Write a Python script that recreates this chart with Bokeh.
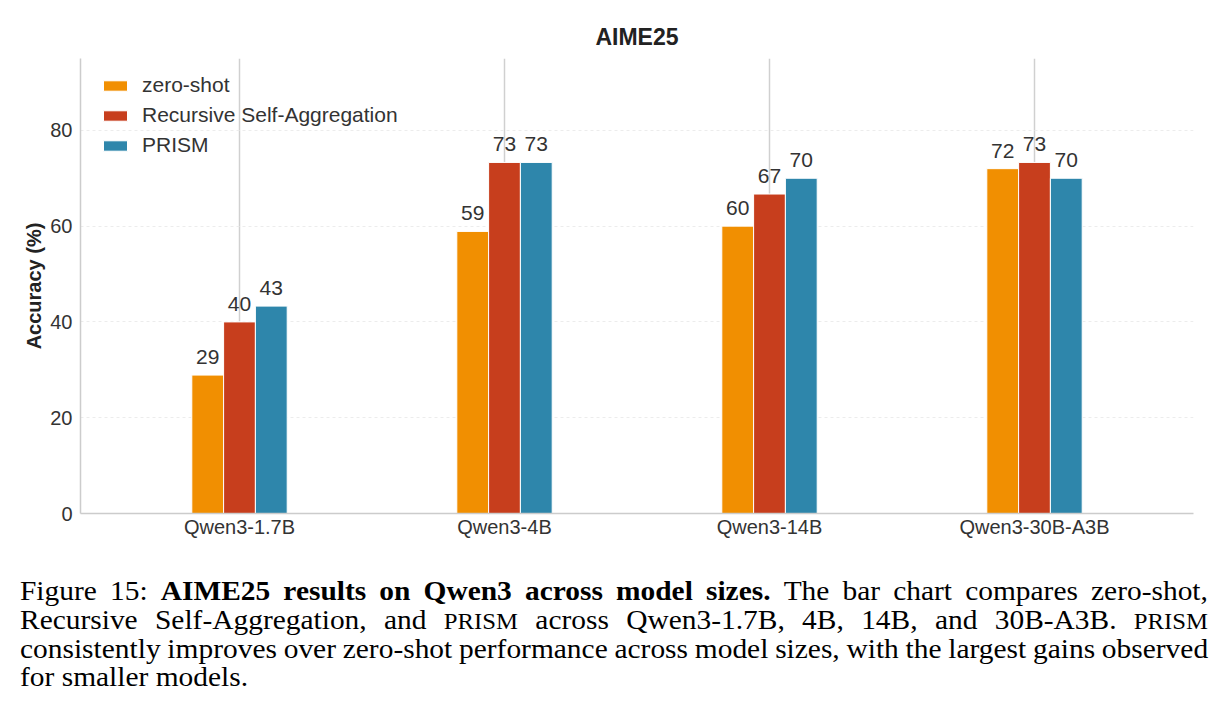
from bokeh.plotting import figure
from bokeh.models import ColumnDataSource, Legend, LegendItem, Div, FixedTicker, Range1d
from bokeh.layouts import column
from bokeh.embed import file_html
from bokeh.resources import INLINE
from bokeh.core.properties import value

# ---- data ----
models = ["Qwen3-1.7B", "Qwen3-4B", "Qwen3-14B", "Qwen3-30B-A3B"]
series_names = ["zero-shot", "Recursive Self-Aggregation", "PRISM"]
zero_shot = [28.9, 58.9, 60.0, 72.0]
recursive_self_agg = [40.0, 73.3, 66.7, 73.3]
prism = [43.3, 73.3, 70.0, 70.0]
y_ticks = [0, 20, 40, 60, 80]
title_text = "AIME25"
y_label = "Accuracy (%)"

caption_lines = [
    ["Figure", "15:", "<b>AIME25</b>", "<b>results</b>", "<b>on</b>", "<b>Qwen3</b>", "<b>across</b>",
     "<b>model</b>", "<b>sizes.</b>", "The", "bar", "chart", "compares", "zero-shot,"],
    ["Recursive", "Self-Aggregation,", "and", "<span style='font-size:0.84em'>PRISM</span>", "across",
     "Qwen3-1.7B,", "4B,", "14B,", "and", "30B-A3B.", "<span style='font-size:0.84em'>PRISM</span>"],
    ["consistently", "improves", "over", "zero-shot", "performance", "across", "model", "sizes,",
     "with", "the", "largest", "gains", "observed"],
    ["for", "smaller", "models."],
]

colors = ["#F18F01", "#C73E1D", "#2E86AB"]
offsets = [-0.12, 0.0, 0.12]
FONT = "Liberation Sans"
TXT = "#333333"

p = figure(width=1222, height=567,
           x_range=Range1d(-0.6, 3.6), y_range=Range1d(0, 95),
           output_backend="svg", toolbar_location=None,
           min_border_left=80, min_border_right=29,
           min_border_top=58, min_border_bottom=54,
           title=title_text)

p.title.text_font = FONT
p.title.text_font_size = "23px"
p.title.text_font_style = "bold"
p.title.text_color = "#222222"
p.title.align = "center"
p.title.standoff = 17

items = []
for name, vals, col, off in zip(series_names, [zero_shot, recursive_self_agg, prism], colors, offsets):
    src = ColumnDataSource(dict(
        x=[i + off for i in range(len(models))],
        top=vals,
        label=["%d" % round(v) for v in vals],
    ))
    r = p.vbar(x="x", top="top", width=0.12, source=src,
               fill_color=col, line_color="white", line_width=1)
    p.text(x="x", y="top", text="label", source=src,
           text_font=value(FONT), text_font_size="21px", text_color=TXT,
           text_align="center", text_baseline="alphabetic", y_offset=-18)
    items.append(LegendItem(label=name, renderers=[r]))

legend = Legend(items=items, location=(20, 356),
                glyph_width=30, glyph_height=13,
                label_text_font=FONT, label_text_font_size="21px",
                label_text_color=TXT, label_standoff=12, label_height=24,
                spacing=6, padding=0, margin=0,
                border_line_color=None, background_fill_alpha=0)
p.add_layout(legend)

# axes
p.xaxis.ticker = FixedTicker(ticks=list(range(len(models))))
p.xaxis.major_label_overrides = {i: m for i, m in enumerate(models)}
p.yaxis.ticker = FixedTicker(ticks=y_ticks)
p.yaxis.axis_label = y_label
p.yaxis.axis_label_text_font = FONT
p.yaxis.axis_label_text_font_size = "20px"
p.yaxis.axis_label_text_font_style = "bold"
p.yaxis.axis_label_text_color = "#222222"
p.yaxis.axis_label_standoff = 2
for ax in (p.xaxis, p.yaxis):
    ax.major_label_text_font = FONT
    ax.major_label_text_font_size = "20px"
    ax.major_label_text_color = TXT
    ax.axis_line_color = "#cccccc"
    ax.axis_line_width = 1.5
    ax.major_tick_line_color = None
    ax.minor_tick_line_color = None
p.yaxis.major_label_standoff = 2
p.xaxis.major_label_standoff = -4

p.xgrid.grid_line_color = "#d0d0d0"
p.xgrid.grid_line_width = 1.5
p.ygrid.grid_line_color = "#ececec"
p.ygrid.grid_line_dash = "3 3"
p.ygrid.grid_line_width = 1
p.outline_line_color = None

# caption
SX = 1.09
rows = []
for k, words in enumerate(caption_lines):
    last = k == len(caption_lines) - 1
    jc = "flex-start;gap:0.25em" if last else "space-between"
    spans = "".join("<span>%s</span>" % w for w in words)
    rows.append("<div style='display:flex;flex-wrap:nowrap;white-space:nowrap;align-items:baseline;"
                "height:28.8px;line-height:28.8px;justify-content:%s'>%s</div>" % (jc, spans))
html = ("<div style=\"font-family:'Liberation Serif';font-size:27px;color:#000;"
        "margin-left:15px;margin-top:5px;width:%dpx;transform:scaleX(%s);transform-origin:0 0;\">"
        % (round(1188 / SX), SX) + "".join(rows) + "</div>")
cap = Div(text=html, width=1222, height=147)

layout = column(p, cap, spacing=0)
open("out.html", "w").write(file_html(layout, INLINE))
